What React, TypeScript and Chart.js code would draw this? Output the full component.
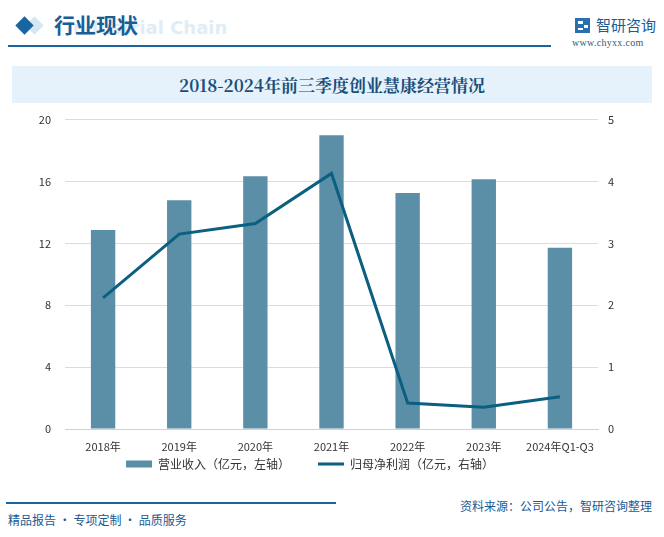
import React, { useEffect, useRef } from "react";
import { Chart, registerables } from "chart.js";

Chart.register(...registerables);

const categories = ["2018年", "2019年", "2020年", "2021年", "2022年", "2023年", "2024年Q1-Q3"];
const revenue = [12.86, 14.79, 16.34, 18.99, 15.25, 16.15, 11.72];
const netProfit = [2.12, 3.15, 3.32, 4.13, 0.42, 0.35, 0.52];
const leftTicks = [0, 4, 8, 12, 16, 20];
const rightTicks = [0, 1, 2, 3, 4, 5];
const seriesNames = ["营业收入（亿元，左轴）", "归母净利润（亿元，右轴）"];

const BAR = "#5b8fa8";
const LINE = "#0b5f80";
const FONT = "'Noto Sans CJK SC', 'DejaVu Sans', sans-serif";

export default function App() {
  const ref = useRef<HTMLCanvasElement | null>(null);

  useEffect(() => {
    document.body.style.margin = "0";
    const canvas = ref.current;
    if (!canvas) return;
    const chart = new Chart(canvas, {
      type: "bar",
      data: {
        labels: categories,
        datasets: [
          {
            type: "bar",
            label: seriesNames[0],
            data: revenue,
            backgroundColor: BAR,
            borderWidth: 0,
            barPercentage: 0.32,
            categoryPercentage: 1,
            yAxisID: "y",
            order: 2,
          },
          {
            type: "line",
            label: seriesNames[1],
            data: netProfit,
            borderColor: LINE,
            backgroundColor: LINE,
            borderWidth: 3,
            pointRadius: 0,
            tension: 0,
            yAxisID: "y1",
            order: 1,
          },
        ],
      },
      options: {
        animation: false,
        responsive: false,
        maintainAspectRatio: false,
        layout: { padding: { left: 0, right: 44, top: 11, bottom: 0 } },
        plugins: {
          tooltip: { enabled: false },
          legend: {
            position: "bottom",
            labels: {
              font: { family: FONT, size: 12 },
              color: "#333",
              usePointStyle: true,
              boxHeight: 7,
              pointStyleWidth: 26,
              padding: 28,
              generateLabels: (c: any) =>
                c.data.datasets.map((ds: any, i: number) => ({
                  text: ds.label,
                  fillStyle: i === 0 ? BAR : LINE,
                  strokeStyle: i === 0 ? BAR : LINE,
                  lineWidth: i === 0 ? 0 : 3,
                  pointStyle: i === 0 ? "rect" : "line",
                  datasetIndex: i,
                  hidden: false,
                  fontColor: "#333",
                })),
            },
          },
        },
        scales: {
          x: {
            grid: { display: false, drawTicks: false },
            border: { display: true, color: "#d0d0d0" },
            ticks: { font: { family: FONT, size: 11 }, color: "#333", padding: -24, mirror: true, maxRotation: 0 },
            afterFit: (s: any) => { s.height = 1; },
          },
          y: {
            position: "left",
            min: 0,
            max: 20,
            afterBuildTicks: (s: any) => { s.ticks = leftTicks.map((v) => ({ value: v })); },
            grid: { color: "#dcdcdc", drawTicks: false },
            border: { display: false },
            ticks: { font: { family: FONT, size: 11 }, color: "#333", padding: 14 },
            afterFit: (s: any) => { s.width = 65; },
          },
          y1: {
            position: "right",
            min: 0,
            max: 5,
            afterBuildTicks: (s: any) => { s.ticks = rightTicks.map((v) => ({ value: v })); },
            grid: { display: false, drawTicks: false },
            border: { display: false },
            ticks: { font: { family: FONT, size: 11 }, color: "#333", padding: 10 },
            afterFit: (s: any) => { s.width = 22; },
          },
        },
      },
    } as any);
    return () => chart.destroy();
  }, []);

  return (
    <div style={{ position: "relative", width: 664, height: 537, background: "#fff", overflow: "hidden", fontFamily: FONT }}>
      {/* header */}
      <div style={{ position: "absolute", left: 28, top: 19, width: 13, height: 13, background: "#d6e7f3", transform: "rotate(45deg)" }} />
      <div style={{ position: "absolute", left: 18, top: 19, width: 13, height: 13, background: "#1a64a0", transform: "rotate(45deg)" }} />
      <div style={{ position: "absolute", left: 66, top: 17, fontSize: 18, fontWeight: 700, color: "#e0edf7", fontFamily: "'DejaVu Sans', sans-serif", whiteSpace: "nowrap" }}>Industrial Chain</div>
      <div style={{ position: "absolute", left: 54, top: 9, fontSize: 21, fontWeight: 700, color: "#1a5e96", whiteSpace: "nowrap", lineHeight: "30px" }}>行业现状</div>
      <div style={{ position: "absolute", left: 8, top: 45, width: 543, height: 2, background: "#1a64a0" }} />
      {/* logo */}
      <div style={{ position: "absolute", left: 575, top: 18, width: 15, height: 15, background: "#2a6fb0" }}>
        <div style={{ position: "absolute", left: 3, top: 3, width: 5, height: 3, background: "#fff" }} />
        <div style={{ position: "absolute", left: 9, top: 7, width: 4, height: 3, background: "#fff" }} />
        <div style={{ position: "absolute", left: 3, top: 10, width: 5, height: 2, background: "#fff" }} />
      </div>
      <div style={{ position: "absolute", left: 596, top: 15, fontSize: 15, color: "#1c5a94", whiteSpace: "nowrap", lineHeight: "20px" }}>智研咨询</div>
      <div style={{ position: "absolute", left: 572, top: 37, fontSize: 10, color: "#2c5a80", fontFamily: "'Liberation Serif', serif", whiteSpace: "nowrap", letterSpacing: 0.3 }}>www.chyxx.com</div>
      {/* title banner */}
      <div style={{ position: "absolute", left: 12, top: 66, width: 640, height: 37, background: "#e6f2fb" }} />
      <div style={{ position: "absolute", left: 12, top: 66, width: 640, height: 37, lineHeight: "37px", textAlign: "center", fontSize: 17, fontWeight: 700, color: "#1a4e7a", fontFamily: "'Noto Serif CJK SC', 'Liberation Serif', 'Noto Sans CJK SC', serif", whiteSpace: "nowrap" }}>2018-2024年前三季度创业慧康经营情况</div>
      {/* chart */}
      <canvas ref={ref} width={664} height={381} style={{ position: "absolute", left: 0, top: 99, width: 664, height: 381 }} />
      {/* footer */}
      <div style={{ position: "absolute", left: 6, top: 502, width: 330, height: 1.5, background: "#1a64a0" }} />
      <div style={{ position: "absolute", left: 8, top: 511, fontSize: 12, color: "#1a5a94", whiteSpace: "nowrap", lineHeight: "18px" }}>精品报告 · 专项定制 · 品质服务</div>
      <div style={{ position: "absolute", right: 12, top: 497, fontSize: 12, color: "#1a5a94", whiteSpace: "nowrap", lineHeight: "18px" }}>资料来源：公司公告，智研咨询整理</div>
    </div>
  );
}
